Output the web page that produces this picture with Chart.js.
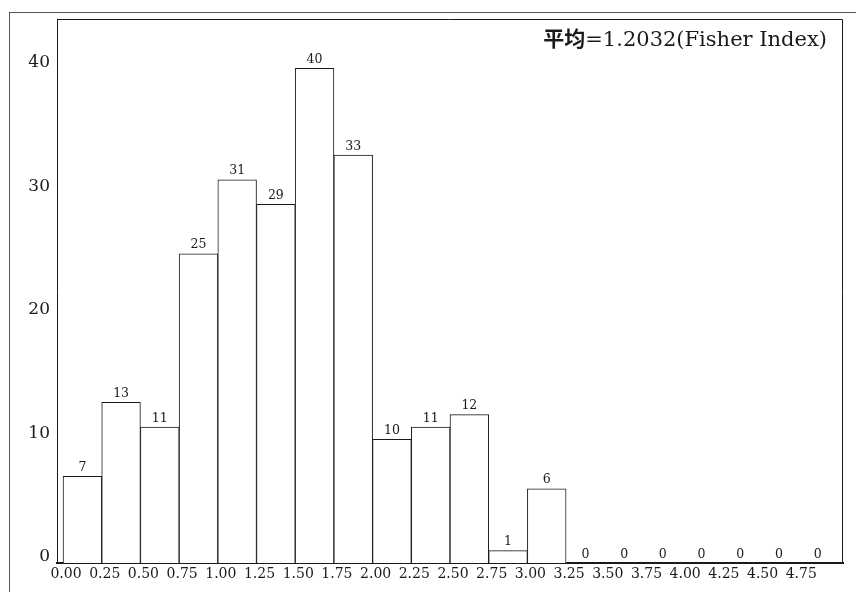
<!DOCTYPE html>
<html>
<head>
<meta charset="utf-8">
<script src="https://cdn.jsdelivr.net/npm/chart.js@4.4.1/dist/chart.umd.min.js"></script>
<style>
  html, body { margin: 0; padding: 0; background: #fff; overflow: hidden; }
  #histo { display: block; }
</style>
</head>
<body>
<canvas id="histo" width="856" height="592"></canvas>
<script>
// bornes gauches des classes (largeur 0.25) et effectifs
const binStarts = [0.00, 0.25, 0.50, 0.75, 1.00, 1.25, 1.50, 1.75, 2.00, 2.25,
                   2.50, 2.75, 3.00, 3.25, 3.50, 3.75, 4.00, 4.25, 4.50, 4.75];
const counts = [7, 13, 11, 25, 31, 29, 40, 33, 10, 11,
                12, 1, 6, 0, 0, 0, 0, 0, 0, 0];
const yTicks = [0, 10, 20, 30, 40];
const meanLabel = '平均';
const meanText = '=1.2032(Fisher Index)';

const binWidth = 0.25;
const serif = "'DejaVu Serif', serif";
const ink = '#1a1a1a';

const histoCanvas = document.getElementById('histo');

// cadre exterieur, cadre du graphique, valeurs au-dessus des barres, moyenne
const decorPlugin = {
    id: 'decor',
    beforeDraw(chart) {
        const ctx = chart.ctx;
        ctx.save();
        ctx.strokeStyle = '#555';
        ctx.lineWidth = 1;
        ctx.strokeRect(9.5, 12.5, 900, 700);
        ctx.restore();
    },
    afterDatasetsDraw(chart) {
        const ctx = chart.ctx;
        const area = chart.chartArea;
        ctx.save();
        ctx.strokeStyle = ink;
        ctx.lineWidth = 1;
        ctx.beginPath();
        ctx.moveTo(area.left, area.top + 0.5);
        ctx.lineTo(area.right - 0.5, area.top + 0.5);
        ctx.lineTo(area.right - 0.5, area.bottom);
        ctx.stroke();

        // effectif au-dessus de chaque barre
        const meta = chart.getDatasetMeta(0);
        ctx.fillStyle = ink;
        ctx.font = '12.5px ' + serif;
        ctx.textAlign = 'center';
        ctx.textBaseline = 'alphabetic';
        meta.data.forEach((bar, i) => {
            ctx.fillText(String(counts[i]), bar.x, bar.y - 5.5);
        });

        // moyenne en haut a droite
        const right = area.right - 16;
        const base = 46;
        ctx.textAlign = 'right';
        ctx.font = '21px ' + serif;
        ctx.fillText(meanText, right, base);
        const w = ctx.measureText(meanText).width;
        ctx.font = "bold 21px 'Noto Sans CJK SC', sans-serif";
        ctx.fillText(meanLabel, right - w, base);
        ctx.restore();
    }
};

const histoChart = new Chart(histoCanvas, {
    type: 'bar',
    data: {
        datasets: [{
            data: binStarts.map((s, i) => ({ x: s + binWidth / 2, y: counts[i] })),
            backgroundColor: '#ffffff',
            borderColor: ink,
            borderWidth: 1,
            categoryPercentage: 1,
            barPercentage: 1
        }]
    },
    options: {
        responsive: false,
        animation: false,
        devicePixelRatio: 1,
        layout: { padding: { top: 19, right: 13, left: 0, bottom: 0 } },
        plugins: {
            legend: { display: false },
            tooltip: { enabled: false }
        },
        scales: {
            x: {
                type: 'linear',
                offset: false,
                min: -0.039,
                max: 5.039,
                afterBuildTicks: (scale) => {
                    scale.ticks = binStarts.map(v => ({ value: v }));
                },
                afterFit: (scale) => { scale.height = 29; },
                grid: { display: false, drawTicks: false },
                border: { display: true, width: 2, color: ink },
                ticks: {
                    autoSkip: false,
                    maxRotation: 0,
                    padding: 3,
                    labelOffset: 3,
                    color: ink,
                    font: { family: serif, size: 14 },
                    callback: (v) => Number(v).toFixed(2)
                }
            },
            y: {
                min: 0,
                max: 44,
                afterBuildTicks: (scale) => {
                    scale.ticks = yTicks.map(v => ({ value: v }));
                },
                afterFit: (scale) => { scale.width = 57; },
                grid: { display: false, drawTicks: false },
                border: { display: true, width: 1, color: ink },
                ticks: {
                    padding: 7,
                    labelOffset: -6,
                    color: ink,
                    font: { family: serif, size: 17 }
                }
            }
        }
    },
    plugins: [decorPlugin]
});
</script>
</body>
</html>
